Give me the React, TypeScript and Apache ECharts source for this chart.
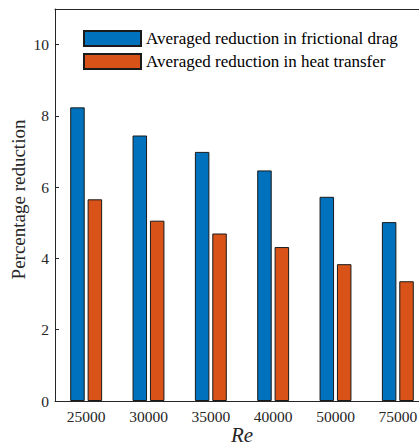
import React, { useEffect, useRef } from "react";
import * as echarts from "echarts";

const categories = ["25000", "30000", "35000", "40000", "50000", "75000"];
const dragReduction = [8.24, 7.45, 6.99, 6.47, 5.73, 5.02];
const heatReduction = [5.66, 5.06, 4.7, 4.32, 3.84, 3.36];
const seriesNames = [
  "Averaged reduction in frictional drag",
  "Averaged reduction in heat transfer",
];
const yTicks = { min: 0, max: 11, interval: 2 };

const FONT = "Times New Roman";
const AXIS = "#262626";

export default function App() {
  const ref = useRef<HTMLDivElement>(null);
  useEffect(() => {
    if (!ref.current) return;
    const chart = echarts.init(ref.current, null, { renderer: "svg" });
    chart.setOption({
      animation: false,
      backgroundColor: "#ffffff",
      textStyle: { fontFamily: FONT },
      grid: {
        left: 55,
        top: 9,
        width: 374,
        height: 392,
        containLabel: false,
        outerBoundsMode: "none",
      },
      legend: {
        orient: "vertical",
        left: 83,
        top: 30,
        padding: 0,
        itemWidth: 57,
        itemHeight: 15,
        itemGap: 6,
        icon: "rect",
        textStyle: { fontFamily: FONT, fontSize: 17, color: "#000" },
        data: seriesNames,
      },
      xAxis: [
        {
          type: "category",
          data: categories,
          position: "bottom",
          name: "Re",
          nameLocation: "middle",
          nameGap: 23,
          nameMoveOverlap: false,
          nameTextStyle: {
            fontFamily: FONT,
            fontStyle: "italic",
            fontSize: 21,
            color: AXIS,
          },
          axisLine: { lineStyle: { color: AXIS, width: 1 } },
          axisTick: { inside: true, length: 4, alignWithLabel: true, lineStyle: { color: AXIS } },
          axisLabel: { fontFamily: FONT, fontSize: 15.5, color: AXIS, margin: 7 },
          splitLine: { show: false },
        },
        {
          type: "category",
          data: categories,
          position: "top",
          axisLine: { lineStyle: { color: AXIS, width: 1 } },
          axisTick: { inside: true, length: 4, alignWithLabel: true, lineStyle: { color: AXIS } },
          axisLabel: { show: false },
          splitLine: { show: false },
        },
      ],
      yAxis: {
        type: "value",
        min: yTicks.min,
        max: yTicks.max,
        interval: yTicks.interval,
        name: "Percentage reduction",
        nameLocation: "middle",
        nameGap: 27,
        nameMoveOverlap: false,
        nameTextStyle: {
          fontFamily: FONT,
          fontSize: 19,
          color: AXIS,
          padding: [0, 0, 0, 11],
        },
        axisLine: { show: true, lineStyle: { color: AXIS, width: 1 } },
        axisTick: { show: true, inside: true, length: 4, lineStyle: { color: AXIS } },
        axisLabel: {
          fontFamily: FONT,
          fontSize: 15.5,
          color: AXIS,
          margin: 6,
          showMaxLabel: false,
        },
        splitLine: { show: false },
      },
      series: [
        {
          name: seriesNames[0],
          type: "bar",
          data: dragReduction,
          barWidth: 14.5,
          barGap: "20%",
          itemStyle: { color: "#0072BD", borderColor: "#1a1a1a", borderWidth: 1 },
        },
        {
          name: seriesNames[1],
          type: "bar",
          data: heatReduction,
          barWidth: 14.5,
          barGap: "20%",
          itemStyle: { color: "#D95319", borderColor: "#1a1a1a", borderWidth: 1 },
        },
      ],
    });
    return () => chart.dispose();
  }, []);
  return (
    <div
      ref={ref}
      style={{ position: "fixed", left: 0, top: 0, width: 419, height: 447 }}
    />
  );
}
